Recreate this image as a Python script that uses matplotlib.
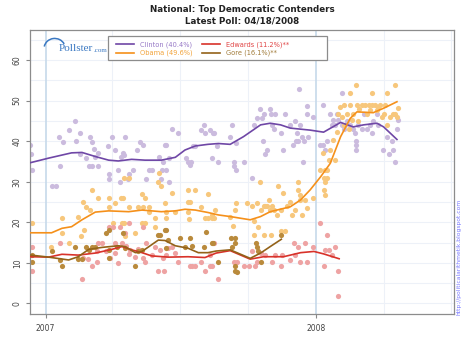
import numpy as np
import pandas as pd
import matplotlib
matplotlib.use("Agg")
import matplotlib.pyplot as plt
import matplotlib.dates as mdates
from matplotlib.patches import Rectangle, Arc

BASE = pd.Timestamp("2007-01-01")

# trend estimates: days since 2007-01-01, percent
clinton_trend_days = [-20, 4, 35, 49, 67, 85, 98, 116, 134, 156, 175, 188, 202, 219, 233, 249, 267, 290,
                      303, 317, 330, 357, 375, 398, 415, 429, 447, 456, 474]
clinton_trend = [34.7, 35.8, 37.1, 37.2, 36.2, 35.3, 35.1, 35.5, 35.3, 35.3, 36.0, 37.8, 38.8, 39.2, 39.4,
                 39.2, 41.1, 44.0, 44.4, 44.0, 43.2, 42.7, 42.2, 44.6, 43.5, 44.0, 44.4, 43.5, 40.4]

obama_trend_days = [-20, 8, 22, 35, 49, 67, 85, 112, 130, 156, 175, 188, 202, 219, 233, 249, 276, 290,
                    303, 330, 344, 357, 371, 384, 398, 411, 420, 442, 456, 474]
obama_trend = [17.4, 17.4, 18.5, 18.9, 20.6, 22.5, 22.8, 22.6, 23.0, 22.6, 22.8, 23.2, 23.0, 22.4, 21.8,
               21.4, 20.6, 21.4, 22.6, 23.8, 25.5, 28.0, 31.2, 34.5, 41.1, 45.6, 47.2, 47.0, 48.1, 49.7]

edwards_trend_days = [-20, 4, 22, 44, 67, 89, 103, 116, 130, 143, 166, 192, 215, 230, 249, 276, 294,
                      321, 344, 362, 375, 396]
edwards_trend = [11.5, 11.4, 12.1, 11.9, 12.4, 13.3, 14.0, 13.2, 12.5, 11.7, 11.4, 11.5, 11.3, 12.4,
                 13.0, 10.9, 11.5, 11.5, 12.5, 12.8, 12.2, 11.0]

gore_trend_days = [-20, 4, 31, 44, 58, 76, 98, 107, 121, 130, 152, 161, 175, 192, 206, 219, 230, 249,
                   276, 290, 303, 318]
gore_trend = [11.9, 11.4, 10.7, 11.5, 13.3, 13.8, 14.2, 14.0, 12.5, 12.8, 15.6, 15.5, 14.2, 13.6, 12.5,
              12.5, 12.9, 13.2, 11.1, 12.4, 14.0, 15.8]

# individual polls
clinton_days = [-21, -18, -20, 8, 14, 18, 20, 23, 31, 40, 41, 47, 47, 54, 58, 60, 62, 63, 65, 67, 70, 71,
                84, 85, 85, 90, 94, 98, 102, 100, 107, 104, 106, 111, 113, 118, 123, 127, 132, 136, 139,
                143, 153, 156, 157, 159, 161, 162, 162, 166, 167, 171, 178, 190, 192, 195, 196, 199, 201,
                210, 213, 215, 222, 224, 226, 231,
                227, 233, 249, 251, 254, 254, 257, 257, 267, 278, 281, 285, 289, 292, 293, 294, 296, 298,
                303, 304, 305, 308, 310, 317, 320, 323, 330, 334, 337, 338, 339, 341, 343, 346, 347, 348,
                352, 352, 354, 361, 370, 374, 374, 377, 380, 384, 386, 388, 391, 393, 395, 400, 402, 404,
                406, 411, 415, 418, 419, 419, 419, 422, 427, 429, 433, 438, 440, 442, 447, 449, 455, 460,
                463, 467, 468, 472, 474, 475, 342, 400]
clinton_vals = [39.0, 32.9, 36.8, 28.9, 28.9, 40.9, 33.9, 39.8, 42.7, 44.9, 39.9, 41.9, 36.7, 35.9, 33.9,
                40.9, 33.9, 39.8, 38.0, 36.0, 33.9, 37.0, 38.9, 31.9, 30.7, 40.9, 37.8, 32.9, 36.0, 30.0,
                40.9, 37.0, 36.6, 30.7, 31.9, 32.9, 37.8, 39.7, 39.0, 30.7, 32.9, 32.9, 36.0, 30.7, 32.9,
                34.9, 39.0, 39.0, 32.9, 35.9, 29.9, 42.9, 41.9, 35.9, 34.9, 34.0, 34.8, 38.9, 38.9, 42.7,
                43.9, 41.9, 42.7, 35.9, 41.9, 38.9,
                41.9, 34.9, 40.9, 44.0, 34.9, 33.9, 32.9, 39.6, 34.9, 30.8, 44.0, 45.6, 47.8, 45.6, 39.9,
                46.8, 36.8, 37.8, 47.8, 46.8, 44.0, 42.9, 46.8, 41.9, 37.8, 46.8, 44.0, 39.0, 45.0, 39.9,
                41.9, 39.9, 44.0, 41.1, 34.9, 39.9, 48.6, 46.8, 41.1, 46.0, 39.0, 48.9, 39.0, 37.8, 39.9,
                46.8, 44.0, 45.2, 44.0, 46.8, 45.2, 44.0, 42.9, 44.0, 45.0, 44.0, 42.9, 41.9, 39.9, 39.0,
                37.8, 44.0, 42.9, 46.8, 42.9, 44.0, 41.9, 45.0, 46.8, 44.0, 37.8, 40.9, 36.8, 39.9, 37.8,
                34.9, 42.9, 45.2, 52.8, 51.8]

obama_days = [63, 70, 85, 102, 104, 106, 113, 130, 134, 152, 153, 156, 171, 192, 201, 219,
              -19, 7, 22, 22, 31, 43, 51, 55, 60, 85, 91, 94, 103, 106, 107, 112, 121, 125, 130, 132, 134,
              139, 139, 148, 148, 161, 163, 163, 174, 192, 195, 192, 193, 210, 215, 219, 224, 228, 52, 48,
              224, 227, 249, 253, 256, 257, 272, 278, 281, 285, 289, 290, 294, 296, 299, 302, 303, 305,
              308, 312, 314, 317, 320, 325, 330, 332, 337, 340, 341, 343, 343, 346, 350, 352, 361, 370,
              374, 377, 375, 375, 377, 379, 377, 380, 382, 384, 388, 391, 393, 395, 397, 400, 402, 402,
              406, 409, 411, 413, 415, 420, 422, 423, 427, 431, 433, 436, 438, 441, 445, 447, 449, 451,
              454, 456, 458, 460, 465, 469, 472, 474, 476,
              419, 411, 440, 460, 471,
              281, 294, 304, 317, 323, 287]
obama_vals = [27.9, 25.9, 25.9, 25.9, 25.9, 30.8, 30.8, 26.9, 25.9, 30.0, 32.1, 28.9, 27.1, 27.9, 27.9, 26.9,
              19.9, 14.0, 21.0, 17.4, 15.0, 21.4, 25.1, 23.8, 22.9, 23.8, 19.9, 24.7, 19.9, 19.9, 16.6, 23.8,
              17.4, 23.8, 19.9, 23.8, 19.9, 23.8, 22.6, 21.0, 18.9, 24.8, 22.6, 21.0, 22.6, 25.1, 25.1, 22.6,
              20.7, 23.8, 21.0, 21.0, 21.0, 23.0, 18.1, 16.5,
              21.8, 21.0, 21.4, 19.1, 23.0, 24.7, 24.7, 23.9, 20.2, 24.7, 30.0, 23.0, 23.9, 23.9, 23.9,
              25.5, 23.0, 23.9, 23.0, 21.8, 28.9, 23.0, 27.1, 23.9, 25.1, 21.8, 23.0, 27.9, 30.0, 26.7,
              25.5, 21.8, 25.5, 23.4, 25.9, 32.9, 37.0, 32.9, 30.8, 27.9, 26.7, 32.9, 30.0, 30.8, 35.3,
              37.8, 40.3, 35.3, 42.3, 46.8, 48.5, 46.0, 48.9, 44.0, 46.8, 42.9, 48.9, 45.2, 46.8, 48.9,
              45.0, 47.8, 48.9, 48.9, 46.8, 48.9, 47.7, 48.9, 48.9, 47.7, 48.5, 48.9, 46.0, 46.8, 48.9,
              44.0, 46.0, 46.8, 46.8, 46.0, 48.1,
              53.8, 51.8, 51.8, 51.8, 53.8,
              16.9, 16.9, 16.9, 17.9, 17.9, 18.9]

edwards_days = [-19, -19, 19, 49, 51, 57, 62, 69, 71, 76, 87, 85, 91, 94, 100, 103, 107, 109, 114, 125,
                132, 134, 136, 152, 154, 159, 160, 163, 165, 171, 174, 179, 195, 197, 201, 210, 215, 222,
                224, 232, 69, 81, 94, 98, 112, 121, 143, 148, 112, 132,
                227, 222, 254, 258, 267, 275, 278, 283, 285, 290, 296, 305, 310, 317, 319, 330, 335, 337,
                341, 343, 350, 352, 361, 370, 375, 377, 379, 382, 386, 391, 394, 395]
edwards_vals = [14.0, 8.0, 15.0, 6.0, 11.1, 10.9, 9.1, 10.1, 15.0, 15.0, 11.1, 18.9, 18.9, 14.8, 18.9,
                15.0, 17.3, 14.2, 13.2, 13.3, 11.1, 10.1, 15.0, 8.0, 13.2, 11.1, 8.0, 11.9, 13.6, 14.0,
                12.4, 10.1, 9.1, 9.1, 9.1, 10.1, 8.0, 11.9, 9.1, 6.0, 12.8, 12.8, 12.5, 9.9, 12.2, 11.4,
                11.9, 14.0, 19.9, 18.9,
                15.0, 9.1, 10.1, 10.1, 9.1, 9.1, 12.8, 9.1, 10.1, 12.4, 11.9, 10.3, 11.9, 9.1, 11.9,
                10.7, 15.0, 11.9, 14.0, 10.3, 15.0, 10.1, 14.0, 19.9, 9.1, 13.2, 16.9, 13.2, 11.9, 14.0,
                8.0, 1.9]

gore_days = [-19, -19, 8, 19, 22, 40, 44, 49, 55, 58, 62, 67, 82, 85, 85, 85, 96, 105, 107, 121, 125, 130,
             152, 154, 161, 163, 162, 165, 181, 188, 195, 197, 214, 216, 224, 226,
             233, 250, 255, 256, 251, 255, 256, 258, 284, 285, 287, 290, 317]
gore_vals = [11.9, 10.1, 12.8, 10.7, 9.1, 14.0, 10.9, 10.9, 14.0, 13.2, 14.0, 14.0, 17.3, 18.1, 13.2, 11.1,
             14.0, 17.3, 13.6, 9.1, 12.8, 13.2, 16.9, 16.9, 18.1, 18.1, 13.6, 15.6, 16.1, 14.0, 16.1, 14.2,
             14.0, 17.7, 15.0, 15.0,
             10.1, 16.0, 16.0, 15.0, 14.0, 9.1, 8.1, 7.8, 15.0, 13.8, 12.8, 10.1, 16.9]

labels = ["Clinton (40.4%)", "Obama (49.6%)", "Edwards (11.2%)**", "Gore (16.1%)**"]
year_labels = ["2007", "2008"]


def to_dates(days):
    return BASE + pd.to_timedelta(np.asarray(days, dtype=float), unit="D")


fig = plt.figure(figsize=(4.7, 3.52), dpi=100)
ax = fig.add_axes([0.064, 0.107, 0.902, 0.808])

# poll dots
ax.scatter(to_dates(clinton_days), clinton_vals, s=14, color="#cbbbde", lw=0, zorder=2)
ax.scatter(to_dates(obama_days), obama_vals, s=14, color="#f7c77c", lw=0, zorder=2)
ax.scatter(to_dates(edwards_days), edwards_vals, s=14, color="#eea3a3", lw=0, zorder=2)
ax.scatter(to_dates(gore_days), gore_vals, s=14, color="#b98a3c", lw=0, zorder=2)

# trend lines
l1, = ax.plot(to_dates(clinton_trend_days), clinton_trend, color="#6f47a6", lw=1.2, zorder=3)
l2, = ax.plot(to_dates(obama_trend_days), obama_trend, color="#f5901a", lw=1.2, zorder=3)
l3, = ax.plot(to_dates(edwards_trend_days), edwards_trend, color="#d8322a", lw=1.2, zorder=3)
l4, = ax.plot(to_dates(gore_trend_days), gore_trend, color="#936219", lw=1.2, zorder=3)

ax.set_xlim(pd.Timestamp("2006-12-11"), pd.Timestamp("2008-07-05"))
ax.set_ylim(-2.7, 67.4)

# grid
for v in range(0, 66, 5):
    ax.axhline(v, color="#edf1f8", lw=0.8, zorder=0)
ax.xaxis.set_major_locator(mdates.YearLocator())
ax.xaxis.set_minor_locator(mdates.MonthLocator(bymonth=[4, 7, 10]))
ax.grid(which="minor", axis="x", color="#edf1f8", lw=0.8, zorder=0)
ax.grid(which="major", axis="x", color="#c6d9ea", lw=1.2, zorder=0)
ax.set_axisbelow(True)
ax.set_xticks([pd.Timestamp("2007-01-01"), pd.Timestamp("2008-01-01")])
ax.set_xticklabels(year_labels)
ax.tick_params(axis="x", which="minor", length=0)
ax.tick_params(axis="x", which="major", length=3, color="#888888", labelsize=5.5, labelcolor="#444444", pad=4)

ax.set_yticks([0, 10, 20, 30, 40, 50, 60])
ax.tick_params(axis="y", length=3, color="#888888", labelsize=5.5, labelcolor="#444444", pad=3)
for t in ax.get_yticklabels():
    t.set_rotation(90)
    t.set_va("center")

for s in ax.spines.values():
    s.set_color("#8c8c8c")
    s.set_linewidth(0.9)

fig.suptitle("National: Top Democratic Contenders\nLatest Poll: 04/18/2008", x=0.515, y=0.985,
             fontsize=6.3, fontweight="bold", color="#222222", linespacing=1.3)

# legend: box drawn separately so it can be wider than its entries
ax.add_patch(Rectangle((0.184, 0.894), 0.516, 0.085, transform=ax.transAxes, facecolor="white",
                       edgecolor="#8c8c8c", lw=0.9, zorder=5))
leg = ax.legend([l1, l2, l3, l4], labels, ncol=2, loc="upper left", bbox_to_anchor=(0.188, 0.982),
                fontsize=4.8, frameon=False, handlelength=2.8, columnspacing=1.4,
                labelspacing=0.35, handletextpad=0.8)
leg.set_zorder(6)
for txt, c in zip(leg.get_texts(), ["#9678c6", "#f2a33a", "#e04444", "#a07a38"]):
    txt.set_color(c)

# pollster logo
ax.add_patch(Arc((0.058, 0.935), 0.05, 0.07, theta1=35, theta2=165, transform=ax.transAxes,
                 color="#3a78c2", lw=1.1, zorder=5))
ax.text(0.068, 0.935, "Pollster", transform=ax.transAxes, fontsize=8, family="Liberation Serif",
        color="#3a78c2", va="center", zorder=5)
ax.text(0.150, 0.927, ".com", transform=ax.transAxes, fontsize=5, family="Liberation Serif",
        color="#3a78c2", va="center", zorder=5)

fig.text(0.977, 0.27, "http://politicalarithmetik.blogspot.com", rotation=90, fontsize=4.3,
         color="#7777ff", ha="center", va="center")

fig.savefig("out.png", dpi=100)
